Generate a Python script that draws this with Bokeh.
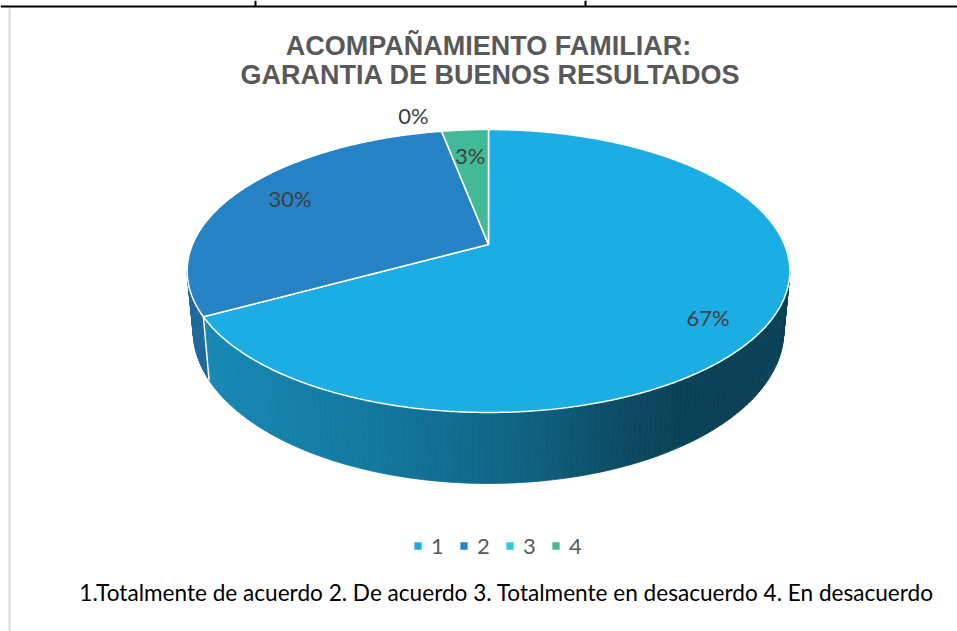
import numpy as np
from bokeh.plotting import figure
from bokeh.models import Range1d, Legend, LegendItem
from bokeh.core.properties import value
from bokeh.embed import file_html
from bokeh.resources import INLINE

# ---------------- data ----------------
title_lines = ["ACOMPAÑAMIENTO FAMILIAR:", "GARANTIA DE BUENOS RESULTADOS"]
categories = ["1", "2", "3", "4"]
percentages = [67, 30, 0, 3]
label_texts = ["67%", "30%", "0%", "3%"]
footnote = "1.Totalmente de acuerdo 2. De acuerdo 3. Totalmente en desacuerdo 4. En desacuerdo"

# ---------------- style / layout ----------------
colors = ["#1CADE4", "#2683C6", "#27CED7", "#42BA97"]
W, H = 957, 631
X0, Y0 = 0, 0                      # data units = page pixels
CX, CY = 488, 244                  # projected pie centre
A, B, K = 296.0, 136.5, 0.1873     # perspective ellipse parameters
T = 57.7                           # side thickness
BOT_SCALE = 0.98
label_r = [0.83, 0.80, 1.19, 0.75]
label_dang = [-5.0, -1.4, 4.2, 0.0]


def project(u, v):
    d = 1 + K * v
    return CX + A * u / d, CY - B * v / d


def project_bottom(u, v):
    d = 1 + K * v
    return CX + BOT_SCALE * A * u / d, CY - B * v / d + T / d


def shade(hex_color, f):
    r, g, b = int(hex_color[1:3], 16), int(hex_color[3:5], 16), int(hex_color[5:7], 16)
    return "#%02x%02x%02x" % (int(r * f), int(g * f), int(b * f))


p = figure(width=W, height=H, output_backend="svg", toolbar_location=None,
           x_range=Range1d(X0, X0 + W), y_range=Range1d(Y0 + H, Y0),
           x_axis_location=None, y_axis_location=None, min_border=0)
p.grid.visible = False
p.outline_line_color = None
p.background_fill_color = "white"
p.border_fill_color = "white"

# frame lines from the surrounding document
p.line([0, 957], [6, 6], line_color="black", line_width=2)
p.multi_line([[255, 255], [585, 585]], [[0, 6], [0, 6]], line_color="black", line_width=2)
p.line([9, 9], [8, 631], line_color="#d9d9d9", line_width=2)

# angles (math degrees, clockwise from 12 o'clock)
total = float(sum(percentages))
cum = np.concatenate([[0.0], np.cumsum(percentages)]) / total
starts = 90 - 360 * cum[:-1]
ends = 90 - 360 * cum[1:]

# ---------------- side (front wall) ----------------
th_l = -180 + np.degrees(np.arcsin(K))
th_r = -np.degrees(np.arcsin(K))
xl, _ = project(np.cos(np.radians(th_l)), np.sin(np.radians(th_l)))
xr, _ = project(np.cos(np.radians(th_r)), np.sin(np.radians(th_r)))
side_xs, side_ys, side_cols = [], [], []
for i in range(len(percentages)):
    hi = min(starts[i], th_r)
    lo = max(ends[i], th_l)
    if hi <= lo:
        continue
    n = max(2, int((hi - lo) / 1.0) + 1)
    angs = np.radians(np.linspace(lo, hi, n))
    for a1, a2 in zip(angs[:-1], angs[1:]):
        tx1, ty1 = project(np.cos(a1), np.sin(a1))
        tx2, ty2 = project(np.cos(a2), np.sin(a2))
        bx1, by1 = project_bottom(np.cos(a1), np.sin(a1))
        bx2, by2 = project_bottom(np.cos(a2), np.sin(a2))
        side_xs.append([tx1, tx2, bx2, bx1])
        side_ys.append([ty1, ty2, by2, by1])
        t = ((tx1 + tx2) / 2 - xl) / (xr - xl)
        f = np.interp(t, [0, 0.3, 0.55, 0.75, 0.85, 1.0], [0.80, 0.70, 0.58, 0.42, 0.38, 0.38])
        side_cols.append(shade(colors[i], f))
p.patches(side_xs, side_ys, fill_color=side_cols, line_color=side_cols, line_width=0.8)

# white edge on the wall at visible slice borders
for a in starts:
    if th_l < a < th_r:
        r = np.radians(a)
        tx, ty = project(np.cos(r), np.sin(r))
        bx, by = project_bottom(np.cos(r), np.sin(r))
        p.line([tx, bx], [ty, by], line_color="white", line_width=1.5)

# ---------------- top face ----------------
top_renderers = []
for i in range(len(percentages)):
    n = max(2, int(abs(starts[i] - ends[i]) / 0.5) + 2)
    angs = np.radians(np.linspace(starts[i], ends[i], n))
    px, py = project(np.cos(angs), np.sin(angs))
    xs = [CX] + list(px)
    ys = [CY] + list(py)
    r = p.patch(xs, ys, fill_color=colors[i], line_color="white", line_width=1.5)
    top_renderers.append(r)

# ---------------- data labels ----------------
lx, ly = [], []
for i in range(len(percentages)):
    mid = np.radians((starts[i] + ends[i]) / 2 + label_dang[i])
    x, y = project(label_r[i] * np.cos(mid), label_r[i] * np.sin(mid))
    lx.append(x)
    ly.append(y)
p.text(lx, ly, text=label_texts, text_align="center", text_baseline="middle",
       text_font=value("Lato"), text_font_size="22px", text_color="#404040")

# ---------------- title ----------------
p.text([488, 490], [45, 74], text=title_lines, text_align="center", text_baseline="middle",
       text_font=value("Liberation Sans"), text_font_style="bold",
       text_font_size="27px", text_color="#595959")

# ---------------- footnote ----------------
p.text([506], [592], text=[footnote], text_align="center", text_baseline="middle",
       text_font=value("Lato"), text_font_size="22.6px", text_color="#000000")

# ---------------- legend ----------------
legend = Legend(items=[LegendItem(label=c, renderers=[r]) for c, r in zip(categories, top_renderers)],
                orientation="horizontal", location=(412, 72),
                glyph_width=11, glyph_height=11, label_standoff=8, spacing=7,
                padding=0, margin=0, border_line_color=None, background_fill_alpha=0,
                label_text_font="Lato", label_text_font_size="22px", label_text_color="#595959")
p.add_layout(legend, "center")

open("out.html", "w").write(file_html(p, INLINE))
